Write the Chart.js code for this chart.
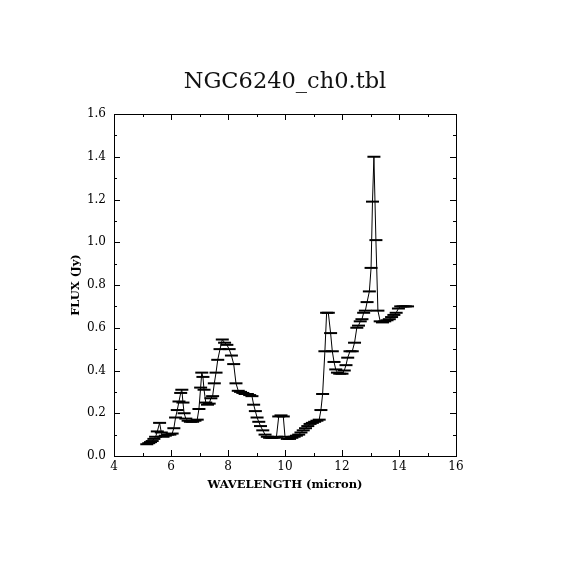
<!DOCTYPE html>
<html>
<head>
<meta charset="utf-8">
<script src="https://cdn.jsdelivr.net/npm/chart.js@4"></script>
<style>
html,body{margin:0;padding:0;background:#fff;}
#wrap{width:570px;height:570px;}
</style>
</head>
<body>
<div id="wrap"><canvas id="c" width="570" height="570"></canvas></div>
<script>
const chartTitle = "NGC6240_ch0.tbl";
const xLabel = "WAVELENGTH (micron)";
const yLabel = "FLUX (Jy)";
const xTicks = [4, 6, 8, 10, 12, 14, 16];
const yTicks = [0.0, 0.2, 0.4, 0.6, 0.8, 1.0, 1.2, 1.4, 1.6];

const wavelength = [
 5.15,5.22,5.28,5.34,5.40,5.46,5.52,5.60,5.66,5.72,5.80,5.88,5.96,6.04,6.10,6.16,6.22,6.28,6.34,6.38,
 6.42,6.46,6.52,6.60,6.68,6.76,6.84,6.92,6.98,7.04,7.08,7.12,7.16,7.22,7.28,7.34,7.40,7.46,7.52,7.58,
 7.64,7.72,7.80,7.88,7.96,8.04,8.12,8.20,8.28,8.36,8.44,8.52,8.60,8.68,8.76,8.84,8.90,8.96,9.02,9.08,
 9.14,9.22,9.30,9.38,9.46,9.54,9.62,9.70,9.78,9.86,9.94,10.00,10.08,10.16,10.24,10.32,10.40,10.48,10.56,10.64,
 10.72,10.80,10.88,10.96,11.04,11.12,11.20,11.26,11.32,11.40,11.46,11.52,11.60,11.66,11.72,11.78,11.84,11.92,12.00,12.08,
 12.14,12.20,12.28,12.36,12.44,12.52,12.58,12.64,12.70,12.76,12.82,12.88,12.96,13.02,13.07,13.12,13.19,13.26,13.34,13.42,
 13.50,13.58,13.66,13.74,13.82,13.90,13.98,14.06,14.14,14.22,14.30
];
const flux = [
 0.055,0.06,0.065,0.07,0.08,0.09,0.115,0.155,0.11,0.09,0.095,0.10,0.10,0.105,0.13,0.18,0.215,0.255,0.295,0.31,
 0.25,0.20,0.175,0.165,0.16,0.16,0.165,0.17,0.22,0.32,0.39,0.37,0.31,0.25,0.24,0.245,0.27,0.28,0.34,0.39,
 0.45,0.50,0.545,0.53,0.52,0.50,0.47,0.43,0.34,0.305,0.30,0.295,0.29,0.29,0.285,0.28,0.24,0.21,0.18,0.16,
 0.14,0.12,0.10,0.09,0.085,0.085,0.085,0.09,0.185,0.19,0.185,0.09,0.08,0.08,0.085,0.09,0.095,0.10,0.11,0.12,
 0.13,0.14,0.15,0.155,0.16,0.165,0.17,0.215,0.29,0.49,0.67,0.67,0.575,0.49,0.44,0.405,0.39,0.385,0.385,0.40,
 0.425,0.46,0.49,0.49,0.53,0.60,0.61,0.63,0.64,0.67,0.68,0.72,0.77,0.88,1.19,1.40,1.01,0.68,0.63,0.625,
 0.63,0.635,0.64,0.65,0.66,0.67,0.69,0.70,0.70,0.70,0.70
];

const points = wavelength.map((w, i) => ({x: w, y: flux[i]}));

const boxTicks = {
  id: 'boxTicks',
  afterDraw(chart) {
    const {ctx, chartArea: a, scales: {x, y}} = chart;
    ctx.save();
    ctx.strokeStyle = '#000';
    ctx.lineWidth = 1;
    ctx.strokeRect(Math.round(a.left) + 0.5, Math.round(a.top) + 0.5, Math.round(a.right - a.left), Math.round(a.bottom - a.top));
    ctx.beginPath();
    for (let v = xTicks[0]; v <= xTicks[xTicks.length - 1] + 1e-9; v += 1) {
      const px = Math.round(x.getPixelForValue(v)) + 0.5;
      const len = (Math.round(v) % 2 === 0) ? 6 : 3;
      ctx.moveTo(px, a.bottom); ctx.lineTo(px, a.bottom - len);
      ctx.moveTo(px, a.top); ctx.lineTo(px, a.top + len);
    }
    for (let k = 0; k <= 16; k++) {
      const v = k / 10;
      const py = Math.round(y.getPixelForValue(v)) + 0.5;
      const len = (k % 2 === 0) ? 6 : 3;
      ctx.moveTo(a.left, py); ctx.lineTo(a.left + len, py);
      ctx.moveTo(a.right, py); ctx.lineTo(a.right - len, py);
    }
    ctx.stroke();
    ctx.restore();
  }
};

new Chart(document.getElementById('c'), {
  type: 'line',
  data: {
    datasets: [{
      data: points,
      borderColor: '#000',
      borderWidth: 1,
      tension: 0,
      pointStyle: 'line',
      pointRadius: 6.5,
      pointBorderWidth: 2,
      pointBorderColor: '#000',
      pointBackgroundColor: '#000',
      pointHoverRadius: 6.5
    }]
  },
  options: {
    responsive: false,
    animation: false,
    events: [],
    layout: {padding: 0},
    plugins: {
      legend: {display: false},
      tooltip: {enabled: false},
      title: {
        display: true,
        text: chartTitle,
        color: '#111',
        font: {family: 'DejaVu Serif', size: 22.5, weight: 'normal'},
        padding: {top: 69, bottom: 18}
      }
    },
    scales: {
      x: {
        type: 'linear',
        min: 4, max: 16,
        afterFit: s => { s.height = 114; },
        afterBuildTicks: s => { s.ticks = xTicks.map(v => ({value: v})); },
        grid: {display: false, drawTicks: false},
        border: {display: false},
        ticks: {color: '#000', font: {family: 'DejaVu Serif', size: 12}, padding: 4, maxRotation: 0,
                callback: v => String(v)},
        title: {display: true, text: xLabel, color: '#000',
                font: {family: 'DejaVu Serif', size: 11.5, weight: 'bold'}, padding: {top: 0, bottom: 78}}
      },
      y: {
        type: 'linear',
        min: 0, max: 1.6,
        afterFit: s => { s.width = 114; },
        afterBuildTicks: s => { s.ticks = yTicks.map(v => ({value: v})); },
        grid: {display: false, drawTicks: false},
        border: {display: false},
        ticks: {color: '#000', font: {family: 'DejaVu Serif', size: 12}, padding: 8,
                callback: v => Number(v).toFixed(1)},
        title: {display: true, text: yLabel, color: '#000',
                font: {family: 'DejaVu Serif', size: 11.5, weight: 'bold'}, padding: {top: 69, bottom: 0}}
      },
      yRight: {
        type: 'linear',
        position: 'right',
        min: 0, max: 1.6,
        afterFit: s => { s.width = 114; },
        grid: {display: false, drawTicks: false},
        border: {display: false},
        ticks: {display: false}
      }
    }
  },
  plugins: [boxTicks]
});
</script>
</body>
</html>
